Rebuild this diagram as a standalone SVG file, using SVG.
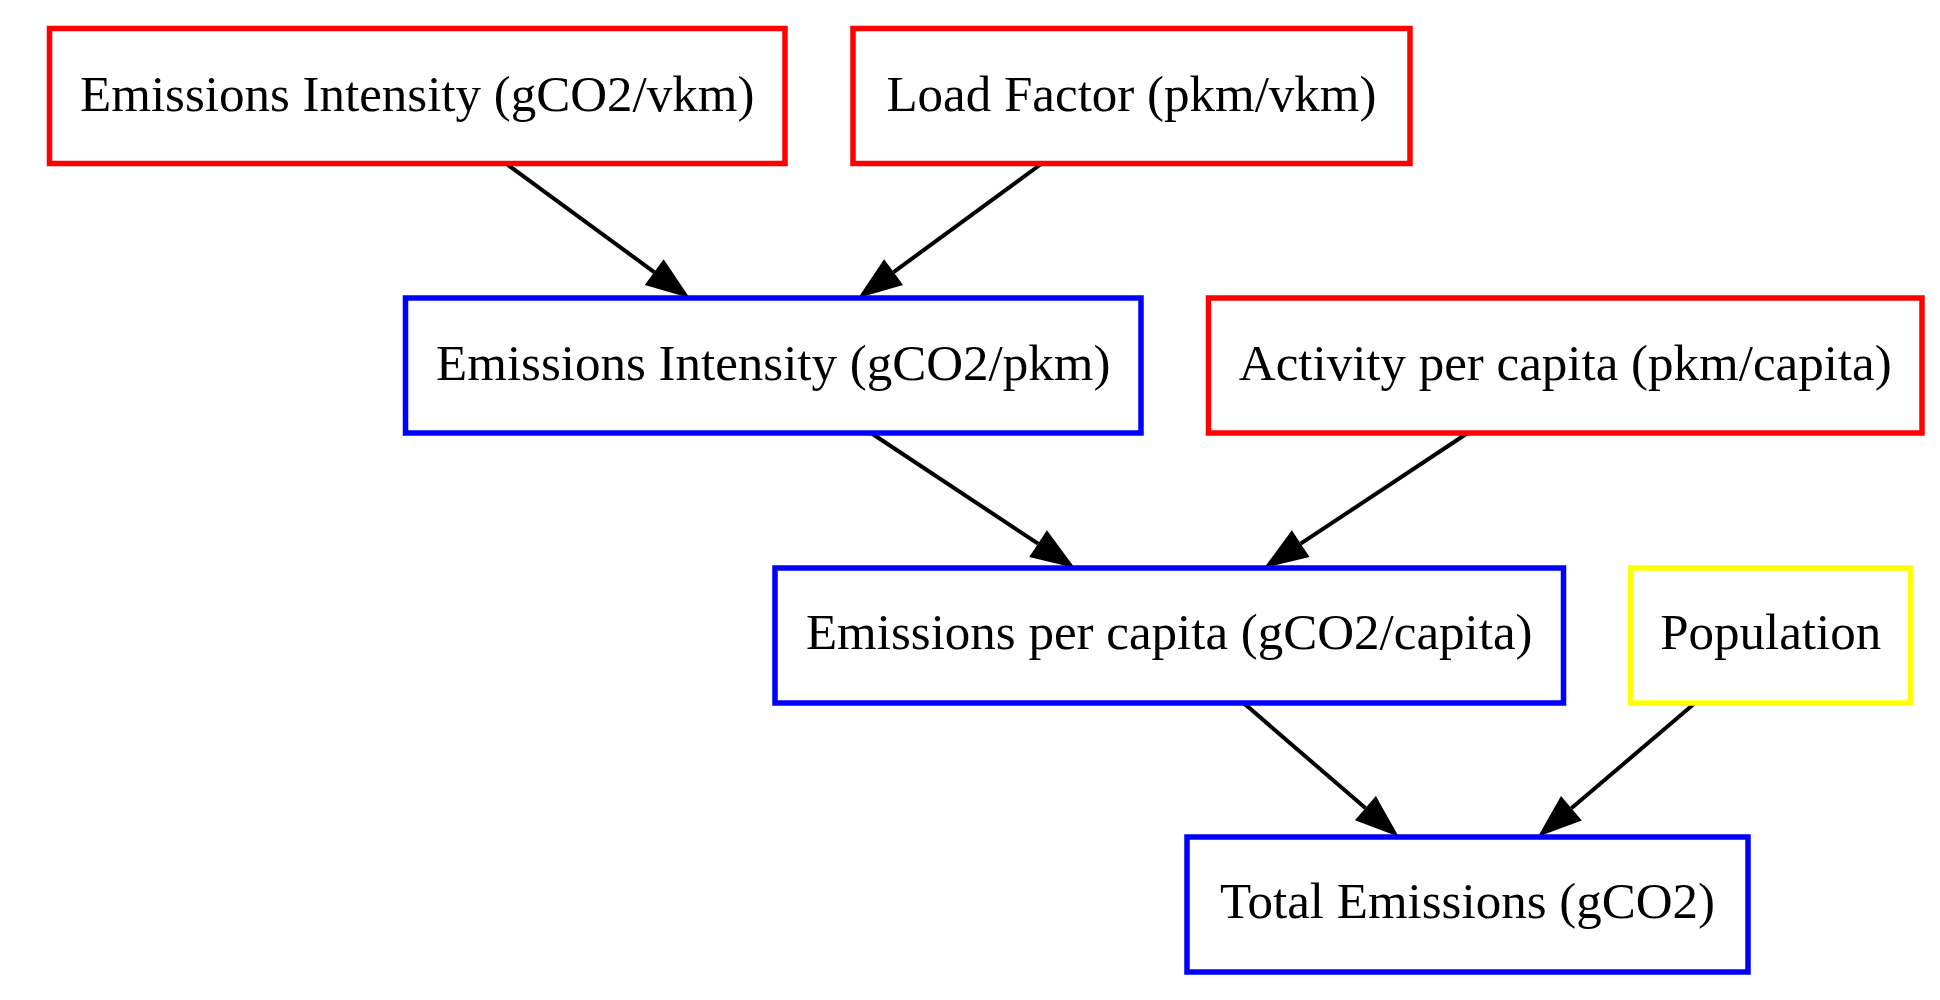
<svg xmlns="http://www.w3.org/2000/svg" width="1940" height="1000" viewBox="0 0 1940 1000">
  <style>
    .node rect { fill: #ffffff; stroke-width: 5.5; }
    .red rect { stroke: #ff0000; }
    .blue rect { stroke: #0000ff; }
    .yellow rect { stroke: #ffff00; }
    .node text { font-family: "Liberation Serif", "Times New Roman", serif; font-size: 51px; fill: #000000; text-anchor: middle; }
    .edge { stroke: #000000; stroke-width: 4; fill: none; }
  </style>
  <defs>
    <marker id="arrow" markerUnits="userSpaceOnUse" viewBox="0 -16 44 32" refX="0" refY="0" markerWidth="44" markerHeight="32" orient="auto" overflow="visible">
      <path d="M0,-16 L44,0 L0,16 Z" fill="#000000"/>
    </marker>
  </defs>
  <rect x="0" y="0" width="1940" height="1000" fill="#ffffff"/>

  <g id="connectors">
    <line class="edge" x1="506" y1="163.5" x2="654.2" y2="272.1" marker-end="url(#arrow)"/>
    <line class="edge" x1="1041.8" y1="163.5" x2="893.6" y2="272.1" marker-end="url(#arrow)"/>
    <line class="edge" x1="871" y1="433" x2="1038.1" y2="543.7" marker-end="url(#arrow)"/>
    <line class="edge" x1="1467.7" y1="433" x2="1300.7" y2="543.7" marker-end="url(#arrow)"/>
    <line class="edge" x1="1243.6" y1="703" x2="1365.4" y2="808.1" marker-end="url(#arrow)"/>
    <line class="edge" x1="1695" y1="703" x2="1571.4" y2="808.3" marker-end="url(#arrow)"/>
  </g>

  <g id="emissions_intensity_vkm" class="node red">
    <rect x="49.5" y="28.5" width="735.5" height="135"/>
    <text x="417.25" y="110.5">Emissions Intensity (gCO2/vkm)</text>
  </g>
  <g id="load_factor" class="node red">
    <rect x="853" y="28.5" width="557" height="135"/>
    <text x="1131.5" y="110.5">Load Factor (pkm/vkm)</text>
  </g>
  <g id="emissions_intensity_pkm" class="node blue">
    <rect x="405.5" y="298" width="735.5" height="135"/>
    <text x="773.25" y="379.5">Emissions Intensity (gCO2/pkm)</text>
  </g>
  <g id="activity_per_capita" class="node red">
    <rect x="1208.5" y="298" width="713.5" height="135"/>
    <text x="1565.25" y="379.5">Activity per capita (pkm/capita)</text>
  </g>
  <g id="emissions_per_capita" class="node blue">
    <rect x="775" y="568" width="788.5" height="135"/>
    <text x="1169.25" y="649">Emissions per capita (gCO2/capita)</text>
  </g>
  <g id="population" class="node yellow">
    <rect x="1630.8" y="568" width="279.7" height="135"/>
    <text x="1770.65" y="649">Population</text>
  </g>
  <g id="total_emissions" class="node blue">
    <rect x="1187" y="837" width="561" height="135"/>
    <text x="1467.5" y="918">Total Emissions (gCO2)</text>
  </g>
</svg>
